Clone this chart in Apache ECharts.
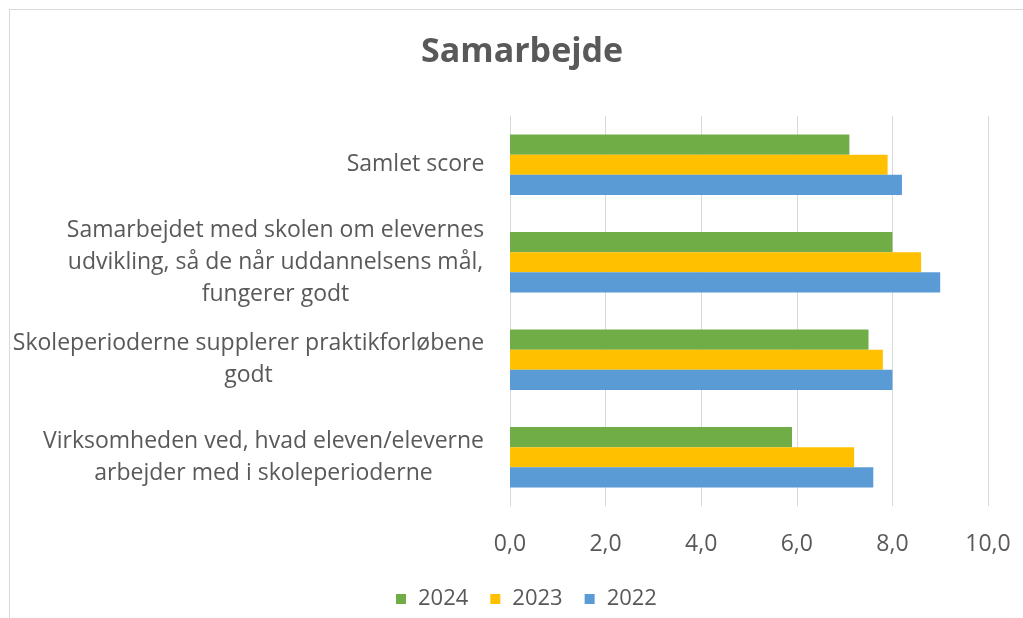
<!DOCTYPE html>
<html>
<head>
<meta charset="utf-8">
<script src="https://cdn.jsdelivr.net/npm/echarts@6/dist/echarts.min.js"></script>
<style>
  html, body { margin: 0; padding: 0; background: #fff; }
  #frame { position: absolute; left: 9px; top: 9px; width: 1030px; height: 630px; border: 1px solid #d9d9d9; box-sizing: border-box; }
  #chart { position: absolute; left: 0; top: 0; width: 1023px; height: 618px; }
</style>
</head>
<body>
<div id="frame"></div>
<div id="chart"></div>
<script>
  // kategorier, oppefra og ned
  var categories = [
    'Samlet score',
    'Samarbejdet med skolen om elevernes\nudvikling, så de når uddannelsens mål,\nfungerer godt',
    'Skoleperioderne supplerer praktikforløbene\ngodt',
    'Virksomheden ved, hvad eleven/eleverne\narbejder med i skoleperioderne'
  ];
  var seriesNames = ['2024', '2023', '2022'];
  var values2024 = [7.1, 8.0, 7.5, 5.9];
  var values2023 = [7.9, 8.6, 7.8, 7.2];
  var values2022 = [8.2, 9.0, 8.0, 7.6];
  var xTicks = [0, 2, 4, 6, 8, 10];

  var fontName = 'Open Sans';
  var fontSize = 23;
  var textColor = '#595959';

  // bredde af hver etiket, så linjerne kan centreres inden for blokken
  var ctx = document.createElement('canvas').getContext('2d');
  ctx.font = fontSize + 'px "' + fontName + '"';
  var rich = {};
  categories.forEach(function (c, i) {
    var w = 0;
    c.split('\n').forEach(function (l) { w = Math.max(w, ctx.measureText(l).width); });
    rich['c' + i] = { width: Math.ceil(w) + 1, align: 'center', fontFamily: fontName, fontSize: fontSize, color: textColor, lineHeight: 32 };
  });

  var chart = echarts.init(document.getElementById('chart'));
  chart.setOption({
    animation: false,
    title: {
      text: 'Samarbejde',
      left: 416,
      top: 30,
      textStyle: { fontFamily: fontName, fontSize: 34, fontWeight: 'bold', color: textColor }
    },
    legend: {
      data: seriesNames,
      bottom: 3,
      left: 391,
      itemWidth: 10,
      itemHeight: 10,
      itemGap: 22,
      icon: 'rect',
      textStyle: { fontFamily: fontName, fontSize: 22, color: textColor, padding: [0, 0, 0, 7] }
    },
    grid: { left: 510, right: 35, top: 116, bottom: 112 },
    xAxis: {
      type: 'value',
      min: xTicks[0],
      max: xTicks[xTicks.length - 1],
      interval: 2,
      axisLine: { show: false },
      axisTick: { show: false },
      splitLine: { lineStyle: { color: '#d9d9d9', width: 1 } },
      axisLabel: {
        margin: 27,
        fontFamily: fontName,
        fontSize: fontSize,
        color: textColor,
        formatter: function (v) { return v.toFixed(1).replace('.', ','); }
      }
    },
    yAxis: {
      type: 'category',
      inverse: true,
      data: categories,
      axisLine: { show: true, lineStyle: { color: '#d9d9d9' } },
      axisTick: { show: false },
      axisLabel: {
        margin: 25,
        formatter: function (v, i) {
          return v.split('\n').map(function (l) { return '{c' + i + '|' + l + '}'; }).join('\n');
        },
        rich: rich
      }
    },
    series: [
      { name: '2024', type: 'bar', data: values2024, itemStyle: { color: '#70ad47' }, barGap: '0%', barCategoryGap: '38%' },
      { name: '2023', type: 'bar', data: values2023, itemStyle: { color: '#ffc000' }, barGap: '0%', barCategoryGap: '38%' },
      { name: '2022', type: 'bar', data: values2022, itemStyle: { color: '#5b9bd5' }, barGap: '0%', barCategoryGap: '38%' }
    ]
  });
</script>
</body>
</html>
